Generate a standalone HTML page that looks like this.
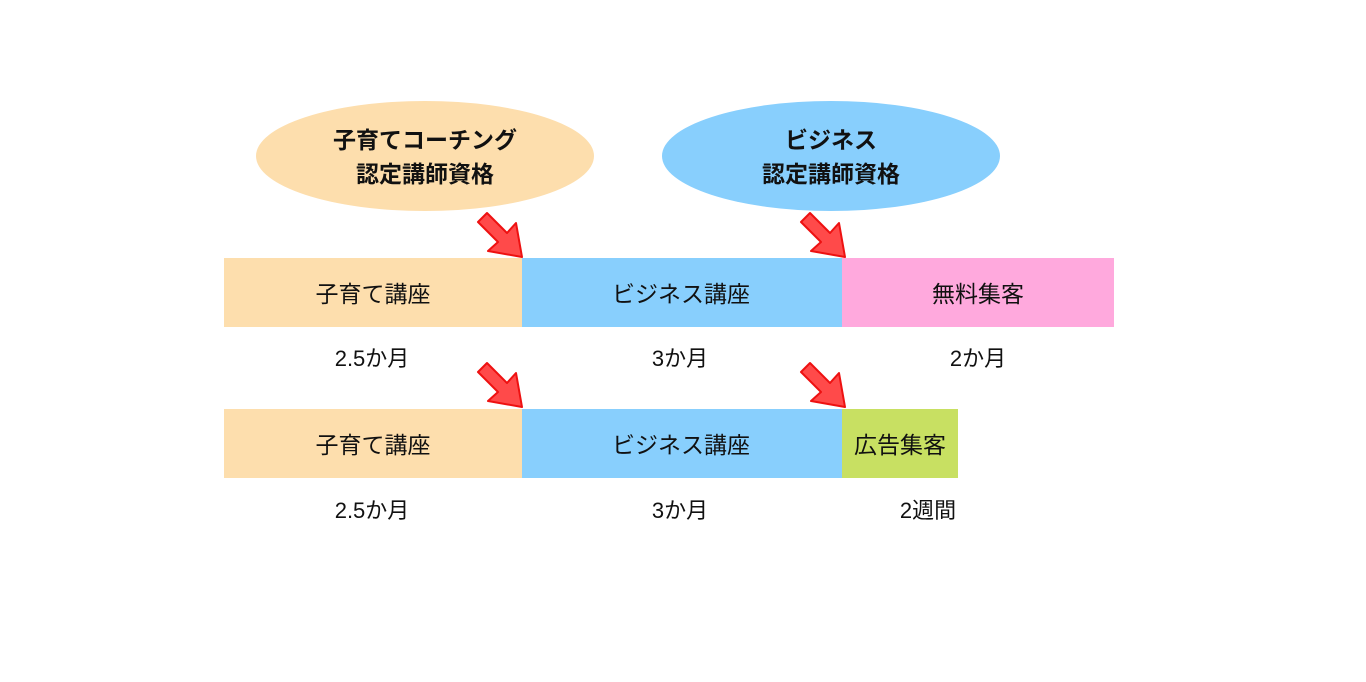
<!DOCTYPE html>
<html><head><meta charset="utf-8"><style>
body{margin:0;width:1366px;height:677px;background:#fff;overflow:hidden;}
svg text{font-family:"Liberation Sans","Noto Sans CJK JP",sans-serif;fill:#111;}
</style></head><body>
<svg width="1366" height="677" viewBox="0 0 1366 677">
<defs>
<g id="arr"><polygon points="0,0 -34,-6 -24,-15 -44,-35 -35,-44 -15,-24 -6,-34" fill="#ff4a4a" stroke="#ee1111" stroke-width="2" stroke-linejoin="round"/></g>
</defs>
<ellipse cx="425" cy="156" rx="169" ry="55" fill="#fddead"/>
<ellipse cx="831" cy="156" rx="169" ry="55" fill="#88cffd"/>
<text x="425" y="148" font-size="23" font-weight="bold" text-anchor="middle">子育てコーチング</text>
<text x="425" y="182" font-size="23" font-weight="bold" text-anchor="middle">認定講師資格</text>
<text x="831" y="148" font-size="23" font-weight="bold" text-anchor="middle">ビジネス</text>
<text x="831" y="182" font-size="23" font-weight="bold" text-anchor="middle">認定講師資格</text>
<rect x="224" y="258" width="298" height="69" fill="#fddead"/>
<rect x="522" y="258" width="320" height="69" fill="#88cffd"/>
<rect x="842" y="258" width="272" height="69" fill="#ffa9dd"/>
<rect x="224" y="409" width="298" height="69" fill="#fddead"/>
<rect x="522" y="409" width="320" height="69" fill="#88cffd"/>
<rect x="842" y="409" width="116" height="69" fill="#c8e062"/>
<g font-size="23" text-anchor="middle">
<text x="373" y="302">子育て講座</text>
<text x="681" y="302">ビジネス講座</text>
<text x="978" y="302">無料集客</text>
<text x="373" y="453">子育て講座</text>
<text x="681" y="453">ビジネス講座</text>
<text x="900" y="453">広告集客</text>
</g>
<g font-size="22" text-anchor="middle">
<text x="372" y="366">2.5か月</text>
<text x="680" y="366">3か月</text>
<text x="978" y="366">2か月</text>
<text x="372" y="518">2.5か月</text>
<text x="680" y="518">3か月</text>
<text x="928" y="518">2週間</text>
</g>
<use href="#arr" transform="translate(522,257)"/>
<use href="#arr" transform="translate(845,257)"/>
<use href="#arr" transform="translate(522,407)"/>
<use href="#arr" transform="translate(845,407)"/>
</svg>
</body></html>
